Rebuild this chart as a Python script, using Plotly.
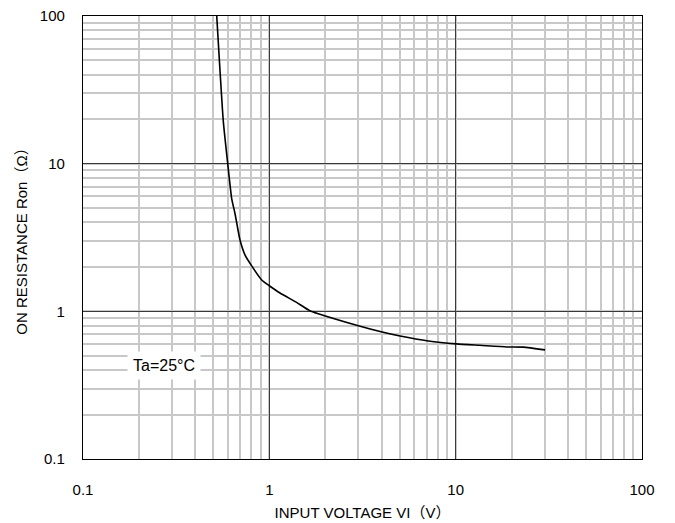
import math
import plotly.graph_objects as go

# Data
vin = [0.522, 0.566, 0.598, 0.628, 0.654, 0.696, 0.741, 0.804, 0.91, 1.0,
       1.141, 1.40, 1.65, 2.21, 3.93, 5.03, 7.14, 10.1, 13.5, 18.8, 23.1, 30.2]
ron = [100, 19.5, 10.0, 5.8, 4.6, 3.04, 2.4, 2.03, 1.63, 1.49,
       1.33, 1.15, 1.01, 0.895, 0.73, 0.681, 0.63, 0.602, 0.589, 0.574, 0.572, 0.548]

x_ticks = [0.1, 1, 10, 100]
x_labels = ["0.1", "1", "10", "100"]
y_ticks = [0.1, 1, 10, 100]
y_labels = ["0.1", "1", "10", "100"]

label_text = "Ta=25°C"
label_at = (0.271, 0.427)

FONT = "Liberation Sans, Arial, Noto Sans CJK JP, sans-serif"

fig = go.Figure()
fig.add_trace(go.Scatter(x=vin, y=ron, mode="lines",
                         line=dict(color="black", width=1.6, shape="spline", smoothing=0.5),
                         showlegend=False, hoverinfo="skip"))

axis_common = dict(
    type="log",
    automargin=False,
    showline=True, linecolor="black", linewidth=1.2, mirror=True,
    gridcolor="#3a3a3a", gridwidth=1,
    ticks="outside", tickcolor="rgba(0,0,0,0)",
    tickfont=dict(family=FONT, size=15, color="black"),
    zeroline=False,
    minor=dict(showgrid=True, gridcolor="#c8c8c8", gridwidth=1.8, dtick="D1", ticks=""),
)

fig.update_xaxes(**axis_common, range=[-1, 2], tickvals=x_ticks, ticktext=x_labels,
                 ticklen=17,
                 title=dict(text="INPUT VOLTAGE VI（V）", font=dict(family=FONT, size=15, color="black"),
                            standoff=10))
fig.update_yaxes(**axis_common, range=[-1, 2], tickvals=y_ticks, ticktext=y_labels,
                 ticklen=14,
                 title=dict(text="ON RESISTANCE Ron（Ω）", font=dict(family=FONT, size=15, color="black"),
                            standoff=8))

fig.add_annotation(x=math.log10(label_at[0]), y=math.log10(label_at[1]), xref="x", yref="y",
                   text=label_text, showarrow=False,
                   xanchor="center", yanchor="middle",
                   font=dict(family=FONT, size=16, color="black"),
                   bgcolor="white", borderpad=5)

fig.update_layout(
    width=675, height=523,
    margin=dict(l=83, r=33, t=16, b=64),
    plot_bgcolor="white", paper_bgcolor="white",
)

fig.write_html("out.html", config={"displayModeBar": False},
               post_script="document.body.style.margin='0';")
